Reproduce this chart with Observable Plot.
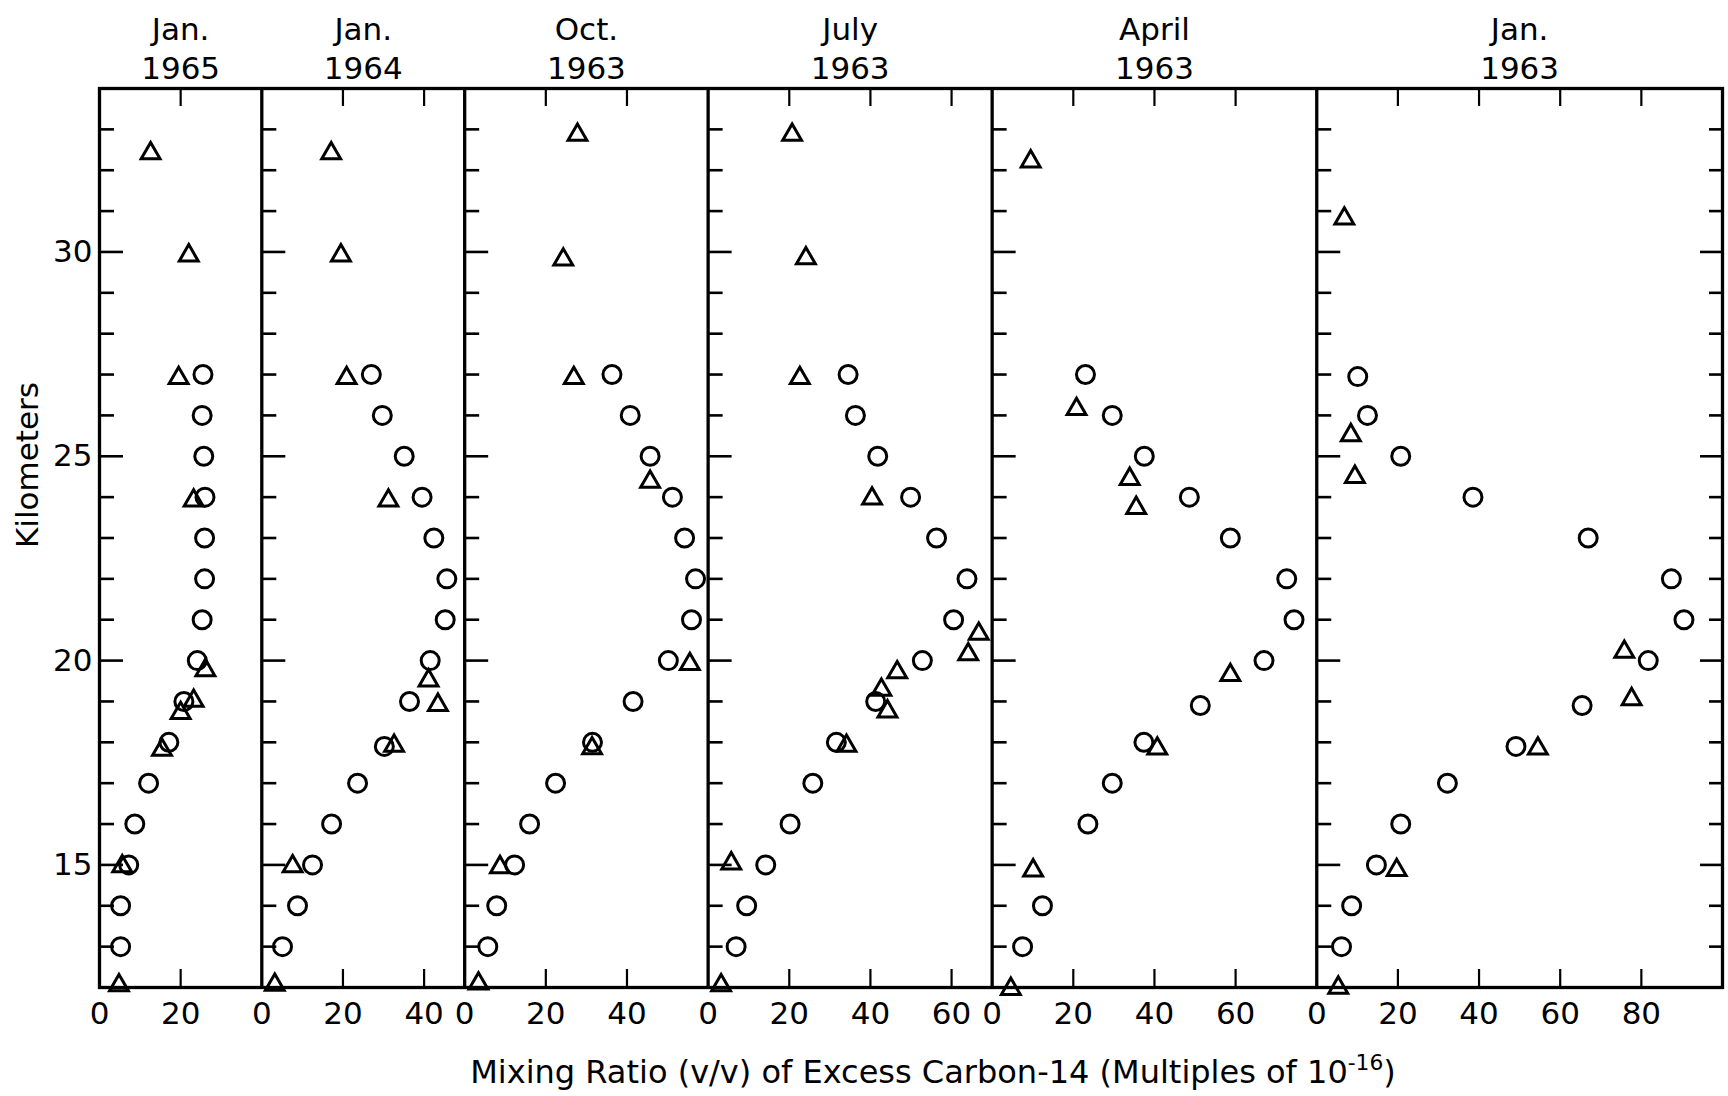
<!DOCTYPE html>
<html>
<head>
<meta charset="utf-8">
<script src="https://cdn.jsdelivr.net/npm/d3@7"></script>
<script src="https://cdn.jsdelivr.net/npm/@observablehq/plot@0.6"></script>
<style>
html, body { margin: 0; padding: 0; background: #fff; overflow: hidden; }
</style>
</head>
<body>
<div id="chart"></div>
<script>
// ---- Panels (sampling dates) and their x-extent (multiples of 1e-16) ----
const panelTitles = ["Jan.\n1965", "Jan.\n1964", "Oct.\n1963", "July\n1963", "April\n1963", "Jan.\n1963"];
const panelMax = [40, 50, 60, 70, 80, 100];

// ---- Tick values ----
const xTickValues = [0, 20, 40, 60, 80];
const yLabelTicks = [15, 20, 25, 30];
const yMinorTicks = [13, 14, 15, 16, 17, 18, 19, 20, 21, 22, 23, 24, 25, 26, 27, 28, 29, 30, 31, 32, 33];
const yDomain = [12, 34];

// ---- Data: [mixing ratio, altitude km] ----
const jan1965Circles = [[25.5,27],[25.3,26],[25.7,25],[26,24],[25.9,23],[25.9,22],[25.3,21],[24.1,20],[20.8,19],[17.1,18],[12.1,17],[8.7,16],[7.2,15],[5.2,14],[5.2,13]];
const jan1965Triangles = [[12.6,32.5],[22,30],[19.5,27],[23.2,24],[26.1,19.85],[23.2,19.1],[20,18.8],[15.4,17.9],[5.6,15.05],[4.8,12.14]];

const jan1964Circles = [[27,27],[29.7,26],[35.1,25],[39.5,24],[42.4,23],[45.6,22],[45.2,21],[41.5,20],[36.4,19],[30.2,17.9],[23.6,17],[17.2,16],[12.5,15],[8.8,14],[5.1,13]];
const jan1964Triangles = [[17.1,32.5],[19.5,30],[20.9,27],[31.2,24],[41.1,19.6],[43.4,19],[32.6,18],[7.6,15.05],[3.2,12.15]];

const oct1963Circles = [[36.3,27],[40.8,26],[45.7,25],[51.2,24],[54.2,23],[56.9,22],[55.9,21],[50.2,20],[41.5,19],[31.5,18],[22.4,17],[16,16],[12.3,15],[7.9,14],[5.7,13]];
const oct1963Triangles = [[27.8,32.95],[24.3,29.9],[26.9,27],[45.7,24.46],[55.5,20],[31.4,17.94],[8.7,15.03],[3.4,12.18]];

const jul1963Circles = [[34.5,27],[36.3,26],[41.8,25],[49.9,24],[56.3,23],[63.8,22],[60.5,21],[52.8,20],[41.3,19],[31.6,18],[25.8,17],[20.2,16],[14.2,15],[9.5,14],[6.9,13]];
const jul1963Triangles = [[20.7,32.95],[24.1,29.93],[22.6,27],[40.4,24.05],[66.7,20.74],[64.1,20.24],[46.6,19.8],[42.7,19.37],[44.2,18.84],[34.1,18],[5.7,15.12],[3.2,12.14]];

const apr1963Circles = [[23,27],[29.6,26],[37.5,25],[48.6,24],[58.7,23],[72.6,22],[74.4,21],[67,20],[51.3,18.9],[37.4,18],[29.6,17],[23.6,16],[12.4,14],[7.5,13]];
const apr1963Triangles = [[9.5,32.3],[20.8,26.24],[33.9,24.53],[35.5,23.82],[58.7,19.73],[40.7,17.93],[10.1,14.95],[4.6,12.05]];

const jan1963Circles = [[10.1,26.95],[12.5,26],[20.7,25],[38.5,24],[66.9,23],[87.4,22],[90.5,21],[81.7,20],[65.4,18.9],[49.1,17.9],[32.2,17],[20.7,16],[14.7,15],[8.6,14],[6.1,13]];
const jan1963Triangles = [[6.8,30.9],[8.4,25.6],[9.4,24.58],[75.8,20.3],[77.6,19.14],[54.5,17.93],[19.7,14.96],[5.3,12.08]];

const seriesByPanel = [
  [jan1965Circles, jan1965Triangles],
  [jan1964Circles, jan1964Triangles],
  [oct1963Circles, oct1963Triangles],
  [jul1963Circles, jul1963Triangles],
  [apr1963Circles, apr1963Triangles],
  [jan1963Circles, jan1963Triangles]
];

const xTitle = "Mixing Ratio (v/v) of Excess Carbon-14 (Multiples of 10";
const xTitleExp = "-16";
const yTitle = "Kilometers";

// ---- Layout ----
const W = 1728, H = 1096;
const mL = 99, mR = 6, mT = 88, mB = 109;
const offsets = panelMax.map((m, i) => d3.sum(panelMax.slice(0, i)));
const total = d3.sum(panelMax);
const pxPerUnit = (W - mL - mR) / total;
const pxPerKm = (H - mT - mB) / (yDomain[1] - yDomain[0]);
const FONT = "DejaVu Sans";

// ---- Derived tables ----
const circles = [], triangles = [];
seriesByPanel.forEach(([c, t], i) => {
  c.forEach(([v, km]) => circles.push({x: offsets[i] + v, y: km, panel: i}));
  t.forEach(([v, km]) => triangles.push({x: offsets[i] + v, y: km, panel: i}));
});

const leftTicks = [];
offsets.forEach(o => yMinorTicks.forEach(km => leftTicks.push({x0: o, y: km, major: yLabelTicks.includes(km)})));

const innerXTicks = [];
const xLabels = [];
panelMax.forEach((m, i) => {
  xTickValues.filter(v => v < m).forEach(v => {
    xLabels.push({x: offsets[i] + v, label: String(v)});
    if (v > 0) innerXTicks.push({x: offsets[i] + v});
  });
});

const titles = panelTitles.map((t, i) => ({x: offsets[i] + panelMax[i] / 2, text: t}));

const majorLen = 24, minorLen = 15, xTickLen = 18;

const svg = Plot.plot({
  width: W,
  height: H,
  marginLeft: mL,
  marginRight: mR,
  marginTop: mT,
  marginBottom: mB,
  style: {fontFamily: FONT, fontSize: "31px", background: "white", color: "black"},
  x: {domain: [0, total], axis: null},
  y: {domain: yDomain, axis: null},
  marks: [
    Plot.frame({stroke: "black", strokeWidth: 3.3}),
    Plot.ruleX(offsets.slice(1), {stroke: "black", strokeWidth: 3.3}),
    // inward altitude ticks on the left side of every panel
    Plot.ruleY(leftTicks, {
      y: "y",
      x1: "x0",
      x2: d => d.x0 + (d.major ? majorLen : minorLen) / pxPerUnit,
      stroke: "black", strokeWidth: 2.6
    }),
    // inward altitude ticks on the right side of the last panel
    Plot.ruleY(yMinorTicks, {
      y: d => d,
      x1: d => total - (yLabelTicks.includes(d) ? majorLen - 2 : minorLen - 2) / pxPerUnit,
      x2: total,
      stroke: "black", strokeWidth: 2.6
    }),
    // top and bottom ticks
    Plot.ruleX(innerXTicks, {x: "x", y1: yDomain[1], y2: yDomain[1] - xTickLen / pxPerKm, stroke: "black", strokeWidth: 2.2}),
    Plot.ruleX(innerXTicks, {x: "x", y1: yDomain[0], y2: yDomain[0] + xTickLen / pxPerKm, stroke: "black", strokeWidth: 2.2}),
    // data
    Plot.dot(circles, {x: "x", y: "y", r: 9, stroke: "black", strokeWidth: 3, fill: "none"}),
    Plot.dot(triangles, {x: "x", y: "y", r: 7, symbol: "triangle", stroke: "black", strokeWidth: 3, fill: "none", dy: 3.5}),
    // tick labels
    Plot.text(xLabels, {x: "x", text: "label", frameAnchor: "bottom", lineAnchor: "top", dy: 14, fontSize: 31, fill: "black"}),
    Plot.text(yLabelTicks, {y: d => d, text: d => String(d), frameAnchor: "left", textAnchor: "end", dx: -7, fontSize: 31, fill: "black"}),
    // panel titles
    Plot.text(titles, {x: "x", text: "text", frameAnchor: "top", lineAnchor: "bottom", dy: -10, fontSize: 31, lineHeight: 1.23, fill: "black"}),
    // axis titles
    Plot.text([xTitle], {text: d => d, frameAnchor: "bottom", lineAnchor: "bottom", dx: 22, dy: 95, fontSize: 32, fill: "black"}),
    Plot.text([yTitle], {text: d => d, frameAnchor: "left", rotate: -90, dx: -71, dy: 10, fontSize: 31, fill: "black"})
  ]
});

// superscript exponent on the x-axis title
d3.select(svg).selectAll("text").filter(function () { return this.textContent === xTitle; })
  .each(function () {
    const t = d3.select(this);
    t.text(null);
    t.append("tspan").text(xTitle);
    t.append("tspan").attr("dy", -13).attr("font-size", "0.68em").text(xTitleExp);
    t.append("tspan").attr("dy", 13).text(")");
  });

document.getElementById("chart").appendChild(svg);
</script>
</body>
</html>
